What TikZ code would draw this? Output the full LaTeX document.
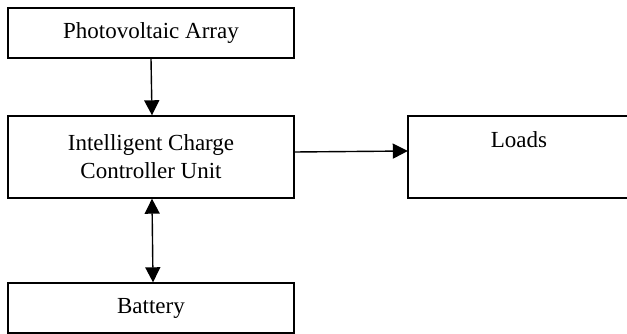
\documentclass[tikz,border=0pt]{standalone}
\usepackage{fontspec}
\setmainfont{Liberation Serif}
\usetikzlibrary{arrows.meta}
\begin{document}
\begin{tikzpicture}[x=1pt,y=-1pt,
  blockbox/.style={draw, line width=1.4pt, inner sep=0pt, minimum width=286pt,
    align=center, font=\fontsize{23}{28}\selectfont},
  flow/.style={line width=1.4pt, -{Triangle[length=15pt,width=15pt]}},
  biflow/.style={line width=1.4pt, {Triangle[length=15pt,width=15pt]}-{Triangle[length=15pt,width=15pt]}}]
  \clip (0,0) rectangle (627,334);
  % blocks
  \node[blockbox, minimum height=50pt] (pv) at (151,33) {Photovoltaic Array};
  \node[blockbox, minimum height=82pt] (icc) at (151,157) {Intelligent Charge\\Controller Unit};
  \node[blockbox, minimum height=50pt] (bat) at (151,308) {Battery};
  \draw[line width=1.4pt] (408,116) rectangle (632,198);
  \node[inner sep=0pt, minimum width=224pt, minimum height=82pt] (loads) at (520,157) {};
  \node[font=\fontsize{23}{28}\selectfont, anchor=base] at (519,148) {Loads};
  % connectors
  \draw[flow] (pv.south) -- ([xshift=1pt]icc.north);
  \draw[flow] ([yshift=5pt]icc.east) -- ([yshift=6pt]loads.west);
  \draw[biflow] ([xshift=1pt]icc.south) -- ([xshift=2pt]bat.north);
\end{tikzpicture}
\end{document}
